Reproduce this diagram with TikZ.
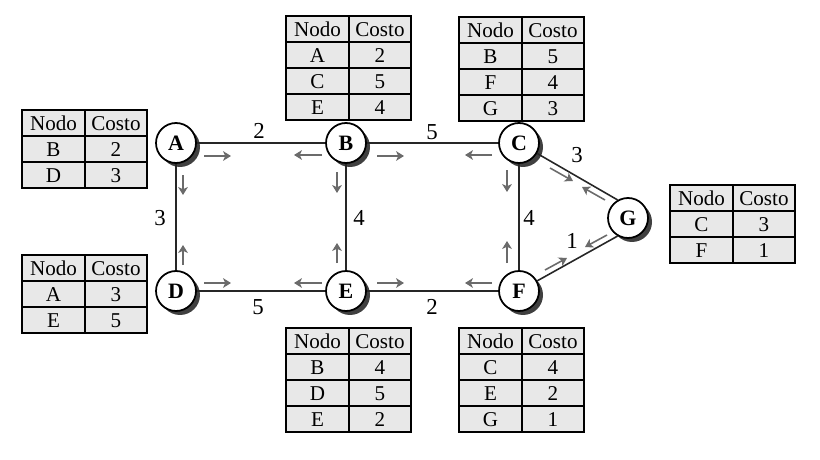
\documentclass[tikz,border=0pt]{standalone}
\usepackage{fontspec}
\setmainfont{Liberation Serif}
\usetikzlibrary{positioning}
\usetikzlibrary{matrix}
\usetikzlibrary{shadows}
\usetikzlibrary{arrows.meta}

\tikzset{
  router/.style={circle, draw, line width=1pt, fill=white, minimum size=0.8cm,
    inner sep=0pt, font=\fontsize{12.5}{13}\selectfont\bfseries,
    drop shadow={shadow xshift=0.08cm, shadow yshift=-0.08cm, fill=black!75, opacity=1}},
  link/.style={line width=0.9pt, black!85},
  flood/.style={line width=0.9pt, black!58, -{Stealth[length=4.5pt,width=5.5pt,inset=1.2pt]}},
  cost/.style={font=\fontsize{13}{13}\selectfont},
  costtab/.style={matrix of nodes, inner sep=0pt, column sep=-1pt, row sep=-1pt,
    nodes={draw, line width=1pt, fill=black!9, minimum width=1.25cm,
      minimum height=0.52cm, inner sep=0pt, anchor=center,
      font=\fontsize{12}{12}\selectfont}},
}

\begin{document}
\begin{tikzpicture}[x=0.02cm, y=-0.02cm]
  \useasboundingbox (0,0) rectangle (820,459);

  % routers
  \node[router] (A) at (176,143) {A};
  \node[router] (B) at (346,143) {B};
  \node[router] (C) at (519,143) {C};
  \node[router] (D) at (176,291) {D};
  \node[router] (E) at (346,291) {E};
  \node[router] (F) at (519,291) {F};
  \node[router] (G) at (628,218) {G};

  % links
  \draw[link] (A) -- (B);
  \draw[link] (B) -- (C);
  \draw[link] (D) -- (E);
  \draw[link] (E) -- (F);
  \draw[link] (A) -- (D);
  \draw[link] (B) -- (E);
  \draw[link] (C) -- (F);
  \draw[link] (C) -- (G.120);
  \draw[link] (F) -- (G.240);

  % link costs
  \node[cost] (wab) at (259,131) {2};
  \node[cost] (wbc) at (432,132) {5};
  \node[cost] (wad) at (160,218) {3};
  \node[cost] (wbe) at (359,218) {4};
  \node[cost] (wcf) at (529,218) {4};
  \node[cost] (wde) at (258,307) {5};
  \node[cost] (wef) at (432,307) {2};
  \node[cost] (wcg) at (577,155) {3};
  \node[cost] (wfg) at (572,241) {1};

  % flooding
  \draw[flood] ([shift={(28,13)}]A.center) -- ++(27,0);
  \draw[flood] ([shift={(7,32)}]A.center) -- ++(0,20);
  \draw[flood] ([shift={(-24,12)}]B.center) -- ++(-28,0);
  \draw[flood] ([shift={(31,13)}]B.center) -- ++(27,0);
  \draw[flood] ([shift={(-9,29)}]B.center) -- ++(0,21);
  \draw[flood] ([shift={(-27,12)}]C.center) -- ++(-27,0);
  \draw[flood] ([shift={(-12,27)}]C.center) -- ++(0,22);
  \draw[flood] ([shift={(31,25)}]C.center) -- ++(23,13);
  \draw[flood] ([shift={(28,-8)}]D.center) -- ++(27,0);
  \draw[flood] ([shift={(7,-26)}]D.center) -- ++(0,-20);
  \draw[flood] ([shift={(-24,-8)}]E.center) -- ++(-28,0);
  \draw[flood] ([shift={(31,-8)}]E.center) -- ++(27,0);
  \draw[flood] ([shift={(-9,-28)}]E.center) -- ++(0,-20);
  \draw[flood] ([shift={(-27,-8)}]F.center) -- ++(-27,0);
  \draw[flood] ([shift={(-12,-28)}]F.center) -- ++(0,-22);
  \draw[flood] ([shift={(26,-21)}]F.center) -- ++(22,-12);
  \draw[flood] ([shift={(-23,-18)}]G.center) -- ++(-23,-13);
  \draw[flood] ([shift={(-21,17)}]G.center) -- ++(-22,12);

  % cost tables
  \matrix (tabA) [costtab, anchor=north west] at (21,109) {
    Nodo & Costo \\
    B & 2 \\
    D & 3 \\
  };
  \matrix (tabD) [costtab, anchor=north west] at (21,254) {
    Nodo & Costo \\
    A & 3 \\
    E & 5 \\
  };
  \matrix (tabB) [costtab, anchor=north west] at (285,15) {
    Nodo & Costo \\
    A & 2 \\
    C & 5 \\
    E & 4 \\
  };
  \matrix (tabC) [costtab, anchor=north west] at (458,16) {
    Nodo & Costo \\
    B & 5 \\
    F & 4 \\
    G & 3 \\
  };
  \matrix (tabE) [costtab, anchor=north west] at (285,327) {
    Nodo & Costo \\
    B & 4 \\
    D & 5 \\
    E & 2 \\
  };
  \matrix (tabF) [costtab, anchor=north west] at (458,327) {
    Nodo & Costo \\
    C & 4 \\
    E & 2 \\
    G & 1 \\
  };
  \matrix (tabG) [costtab, anchor=north west] at (669,184) {
    Nodo & Costo \\
    C & 3 \\
    F & 1 \\
  };
\end{tikzpicture}
\end{document}
